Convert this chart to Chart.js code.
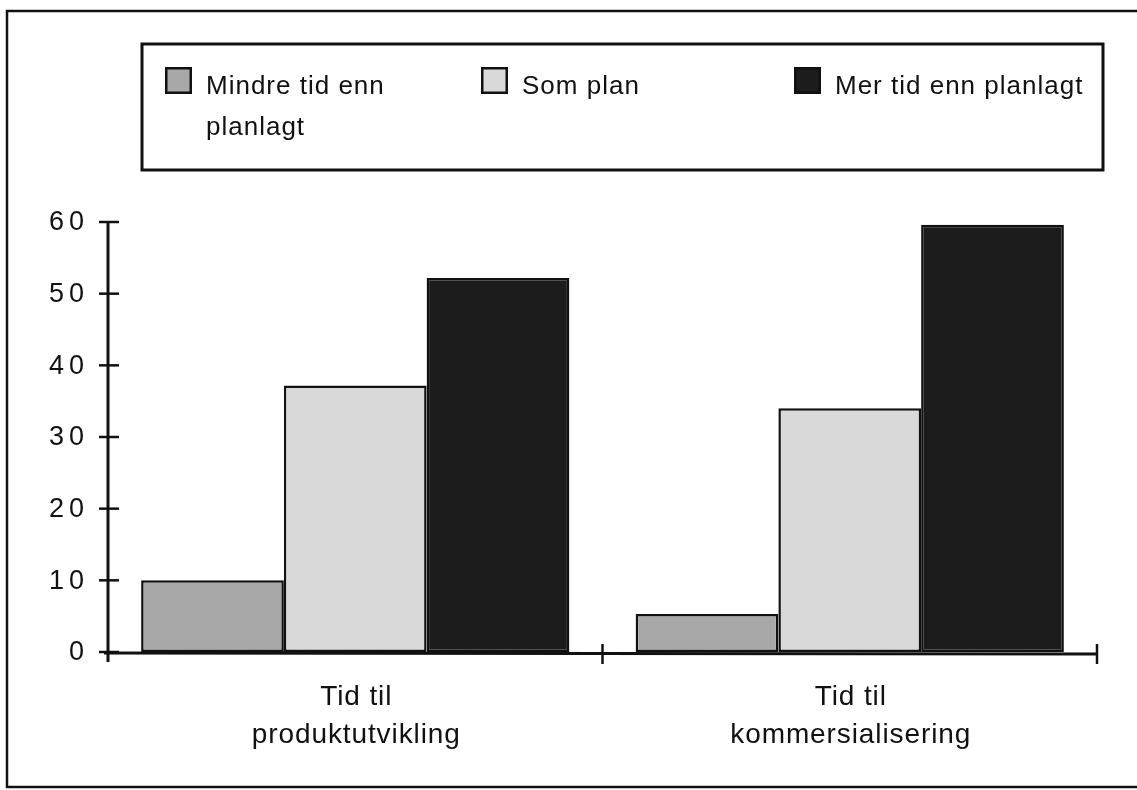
<!DOCTYPE html>
<html>
<head>
<meta charset="utf-8">
<title>Tidsbruk</title>
<style>
  html, body { margin: 0; padding: 0; background: #fff; }
  #chart { display: block; }
</style>
</head>
<body>
<canvas id="chart" width="1137" height="790"></canvas>
<script src="https://cdn.jsdelivr.net/npm/chart.js@4.4.1/dist/chart.umd.min.js"></script>
<script>
const categories = [["Tid til", "produktutvikling"], ["Tid til", "kommersialisering"]];
const seriesNames = ["Mindre tid enn planlagt", "Som plan", "Mer tid enn planlagt"];
const mindreTid = [10, 5.3];
const somPlan = [37.2, 34];
const merTid = [52.2, 59.6];
const yTicks = [0, 10, 20, 30, 40, 50, 60];

const FONT = "'Liberation Sans', Arial, Helvetica, sans-serif";
const INK = "#111";
const fills = ["#a8a8a8", "#d9d9d9", "#1c1c1c"];

// split a label into lines no wider than maxWidth
function wrapText(ctx, text, maxWidth) {
  const words = text.split(" ");
  const lines = [];
  let line = "";
  words.forEach((word) => {
    const test = line ? line + " " + word : word;
    if (line && ctx.measureText(test).width > maxWidth) {
      lines.push(line);
      line = word;
    } else {
      line = test;
    }
  });
  if (line) lines.push(line);
  return lines;
}

// page frame and boxed legend on top
const framePlugin = {
  id: "frame",
  afterDraw(chart) {
    const ctx = chart.ctx;
    ctx.save();
    ctx.strokeStyle = INK;
    ctx.lineWidth = 2.5;
    ctx.strokeRect(7, 11, 1200, 776);

    ctx.lineWidth = 3;
    ctx.strokeRect(142, 44, 961, 126);

    const columns = [165, 481, 794];
    const maxWidths = [250, 260, 290];
    ctx.font = `26px ${FONT}`;
    ctx.letterSpacing = "1px";
    ctx.textAlign = "left";
    ctx.textBaseline = "alphabetic";
    chart.data.datasets.forEach((ds, i) => {
      const x = columns[i];
      ctx.fillStyle = ds.backgroundColor;
      ctx.fillRect(x, 67, 27, 27);
      ctx.lineWidth = 2.5;
      ctx.strokeStyle = INK;
      ctx.strokeRect(x + 1.25, 68.25, 24.5, 24.5);
      ctx.fillStyle = INK;
      wrapText(ctx, ds.label, maxWidths[i]).forEach((line, li) => {
        ctx.fillText(line, x + 41, 94 + li * 41);
      });
    });
    ctx.restore();
  },
};

// axes with crossing tick marks, spaced tick labels and two-line category names
const axesPlugin = {
  id: "axes",
  afterDatasetsDraw(chart) {
    const ctx = chart.ctx;
    const xs = chart.scales.x;
    const ys = chart.scales.y;
    const area = chart.chartArea;
    ctx.save();
    ctx.strokeStyle = INK;
    ctx.fillStyle = INK;

    // y axis
    ctx.lineWidth = 3;
    ctx.beginPath();
    ctx.moveTo(area.left, ys.getPixelForValue(yTicks[yTicks.length - 1]) - 1);
    ctx.lineTo(area.left, area.bottom + 10);
    ctx.stroke();

    ctx.font = `27px ${FONT}`;
    ctx.letterSpacing = "5px";
    ctx.textAlign = "right";
    ctx.textBaseline = "middle";
    yTicks.forEach((v) => {
      const y = ys.getPixelForValue(v);
      ctx.lineWidth = 2.5;
      ctx.beginPath();
      ctx.moveTo(area.left - 9, y);
      ctx.lineTo(area.left + 11, y);
      ctx.stroke();
      ctx.fillText(String(v), area.left - 19, y + 1);
    });

    // x axis
    ctx.lineWidth = 3;
    ctx.beginPath();
    ctx.moveTo(area.left - 4, area.bottom + 1);
    ctx.lineTo(area.right, area.bottom + 2);
    ctx.stroke();

    const half = (xs.getPixelForValue(1) - xs.getPixelForValue(0)) / 2;
    ctx.lineWidth = 2.5;
    categories.forEach((_, i) => {
      const bx = xs.getPixelForValue(i) + half;
      ctx.beginPath();
      ctx.moveTo(bx, area.bottom - 8);
      ctx.lineTo(bx, area.bottom + 12);
      ctx.stroke();
    });

    ctx.font = `28px ${FONT}`;
    ctx.letterSpacing = "0.9px";
    ctx.textAlign = "center";
    ctx.textBaseline = "alphabetic";
    categories.forEach((lines, i) => {
      const cx = xs.getPixelForValue(i);
      lines.forEach((line, li) => {
        ctx.fillText(line, cx + 1, area.bottom + 53 + li * 38);
      });
    });
    ctx.restore();
  },
};

const datasets = [mindreTid, somPlan, merTid].map((values, i) => ({
  label: seriesNames[i],
  data: values,
  backgroundColor: fills[i],
  borderColor: INK,
  borderWidth: 2.5,
  borderSkipped: false,
  barPercentage: 1,
  categoryPercentage: 0.866,
}));

new Chart(document.getElementById("chart"), {
  type: "bar",
  data: { labels: categories.map((c) => c.join(" ")), datasets },
  options: {
    responsive: false,
    devicePixelRatio: 1,
    animation: false,
    layout: { padding: { left: 108, top: 222, right: 40, bottom: 138 } },
    plugins: {
      legend: { display: false },
      tooltip: { enabled: false },
    },
    scales: {
      x: { display: false, grid: { display: false } },
      y: { display: false, min: 0, max: 60, grid: { display: false } },
    },
  },
  plugins: [axesPlugin, framePlugin],
});
</script>
</body>
</html>
